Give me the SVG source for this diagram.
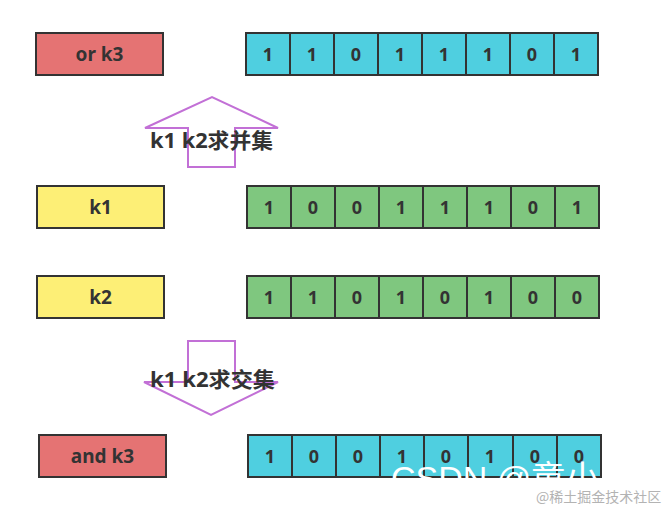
<svg xmlns="http://www.w3.org/2000/svg" width="666" height="509" viewBox="0 0 666 509">
<style>
.box{stroke:#333;stroke-width:2}
.red{fill:#e57373}
.yel{fill:#fdef76}
.cyan{fill:#4fcfe0}
.grn{fill:#7fc77f}
.lbl{font-family:"Noto Sans","Liberation Sans",sans-serif;font-weight:bold;font-size:19px;fill:#333;text-anchor:middle}
.bit{font-family:"Noto Sans","Liberation Sans",sans-serif;font-weight:bold;font-size:18px;fill:#333;text-anchor:middle}
.arrow{fill:none;stroke:#c270d6;stroke-width:2;stroke-linejoin:miter}
.op{font-family:"Noto Sans","Liberation Sans","Noto Sans CJK SC",sans-serif;font-weight:bold;font-size:21px;fill:#333}
</style>
<rect width="666" height="509" fill="#fff"/>
<g id="connectors">
<path class="arrow" d="M188,167 L188,128 L145,128 L212,97 L278,128 L235,128 L235,167 Z"/>
<path class="arrow" d="M188,341 L235,341 L235,382 L278,382 L211,415 L144,382 L188,382 Z"/>
<text class="op" x="150" y="148" textLength="123" lengthAdjust="spacingAndGlyphs">k1 k2求并集</text>
<text class="op" x="150" y="387" textLength="125" lengthAdjust="spacingAndGlyphs">k1 k2求交集</text>
</g>
<g id="or-k3">
<rect class="box red" x="36" y="33" width="127" height="42"/>
<text class="lbl" x="99.5" y="61">or k3</text>
</g>
<g id="or-bits">
<rect class="box cyan" x="246" y="33" width="352" height="42"/>
<path class="box" d="M290,33V75M334,33V75M378,33V75M422,33V75M466,33V75M510,33V75M554,33V75"/>
<text class="bit" y="61"><tspan x="268">1</tspan><tspan x="312">1</tspan><tspan x="356">0</tspan><tspan x="400">1</tspan><tspan x="444">1</tspan><tspan x="488">1</tspan><tspan x="532">0</tspan><tspan x="576">1</tspan></text>
</g>
<g id="k1">
<rect class="box yel" x="37" y="186" width="127" height="42"/>
<text class="lbl" x="100.5" y="214">k1</text>
</g>
<g id="k1-bits">
<rect class="box grn" x="247" y="186" width="352" height="42"/>
<path class="box" d="M291,186V228M335,186V228M379,186V228M423,186V228M467,186V228M511,186V228M555,186V228"/>
<text class="bit" y="214"><tspan x="269">1</tspan><tspan x="313">0</tspan><tspan x="357">0</tspan><tspan x="401">1</tspan><tspan x="445">1</tspan><tspan x="489">1</tspan><tspan x="533">0</tspan><tspan x="577">1</tspan></text>
</g>
<g id="k2">
<rect class="box yel" x="37" y="276" width="127" height="42"/>
<text class="lbl" x="100.5" y="304">k2</text>
</g>
<g id="k2-bits">
<rect class="box grn" x="247" y="276" width="352" height="42"/>
<path class="box" d="M291,276V318M335,276V318M379,276V318M423,276V318M467,276V318M511,276V318M555,276V318"/>
<text class="bit" y="304"><tspan x="269">1</tspan><tspan x="313">1</tspan><tspan x="357">0</tspan><tspan x="401">1</tspan><tspan x="445">0</tspan><tspan x="489">1</tspan><tspan x="533">0</tspan><tspan x="577">0</tspan></text>
</g>
<g id="and-k3">
<rect class="box red" x="39" y="435" width="127" height="42"/>
<text class="lbl" x="102.5" y="463">and k3</text>
</g>
<g id="and-bits">
<rect class="box cyan" x="248" y="435" width="353" height="42"/>
<path class="box" d="M292,435V477M336,435V477M380,435V477M424,435V477M468,435V477M513,435V477M557,435V477"/>
<text class="bit" y="463"><tspan x="270">1</tspan><tspan x="314">0</tspan><tspan x="358">0</tspan><tspan x="402">1</tspan><tspan x="446">0</tspan><tspan x="490">1</tspan><tspan x="535">0</tspan><tspan x="579">0</tspan></text>
</g>
<text x="391" y="490" font-family="'Liberation Sans','Noto Sans CJK SC',sans-serif" font-size="34" fill="#fff">CSDN @童小</text>
<text x="536" y="502" font-family="'Noto Sans CJK SC',sans-serif" font-size="14" fill="#b3b3b3">@稀土掘金技术社区</text>
</svg>
